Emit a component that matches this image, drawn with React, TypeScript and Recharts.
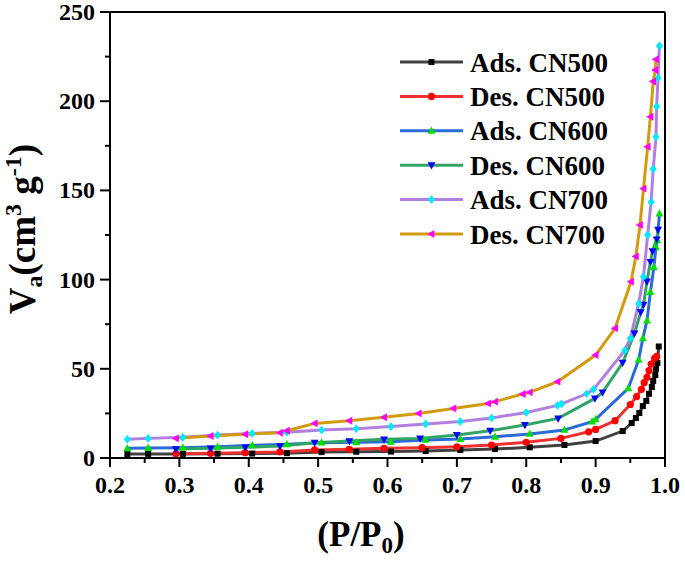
import React from "react";
import { LineChart, Line, XAxis, YAxis, ReferenceLine, Legend } from "recharts";

// relative pressure (P/P0) and adsorbed volume (cm3 g-1) per branch
const ads500P = [0.225, 0.255, 0.305, 0.355, 0.405, 0.455, 0.505, 0.555, 0.605, 0.655, 0.705, 0.755, 0.805, 0.855, 0.9, 0.939, 0.952, 0.958, 0.963, 0.968, 0.973, 0.977, 0.981, 0.983, 0.986, 0.987, 0.989, 0.991];
const ads500V = [2.2, 2.3, 2.3, 2.4, 2.5, 2.7, 3.3, 3.5, 3.6, 3.9, 4.5, 5.0, 6.0, 7.3, 9.5, 15.1, 19.6, 22.4, 25.2, 29.1, 32, 36, 39.8, 43.2, 46.5, 50, 53.3, 62.5];

const des500P = [0.295, 0.345, 0.395, 0.445, 0.495, 0.545, 0.595, 0.65, 0.7, 0.75, 0.8, 0.85, 0.89, 0.9, 0.928, 0.95, 0.959, 0.966, 0.97, 0.974, 0.977, 0.98, 0.985, 0.988];
const des500V = [2.4, 2.6, 3.0, 3.4, 4.5, 4.9, 5.4, 5.8, 6.3, 7.3, 8.8, 11, 14.7, 16, 20.9, 30, 34.4, 38.5, 42.2, 45.2, 49, 52.7, 55.9, 57];

const ads600P = [0.225, 0.255, 0.305, 0.355, 0.405, 0.455, 0.505, 0.555, 0.605, 0.655, 0.705, 0.755, 0.805, 0.855, 0.895, 0.9, 0.947, 0.962, 0.968, 0.974, 0.979, 0.984, 0.987, 0.989, 0.992];
const ads600V = [5.4, 5.6, 5.8, 6.3, 7.1, 7.7, 8.6, 8.8, 9.1, 10.1, 10.6, 11.9, 13.5, 15.7, 20.4, 21.7, 39, 55, 67, 77, 93, 107, 118, 122, 137];

const des600P = [0.295, 0.345, 0.395, 0.445, 0.495, 0.545, 0.595, 0.647, 0.7, 0.748, 0.798, 0.846, 0.899, 0.91, 0.939, 0.956, 0.965, 0.969, 0.974, 0.979, 0.982, 0.988, 0.99];
const des600V = [5.0, 5.4, 6.0, 6.7, 8.6, 9.5, 10.5, 11, 12.9, 15.3, 18.5, 22.2, 33.4, 36.8, 53.4, 69.9, 81.7, 86, 99, 110, 116, 122.6, 128];

const ads700P = [0.225, 0.255, 0.305, 0.355, 0.405, 0.455, 0.505, 0.555, 0.605, 0.655, 0.705, 0.75, 0.8, 0.845, 0.851, 0.887, 0.897, 0.942, 0.95, 0.962, 0.969, 0.975, 0.98, 0.983, 0.987, 0.988, 0.99, 0.992];
const ads700V = [10.5, 11, 11.6, 12.9, 13.8, 14.5, 15.7, 16.4, 17.6, 19.1, 20.4, 22.4, 25.5, 29.5, 30.3, 36, 38.5, 60.3, 67, 86.5, 101.6, 125, 143.5, 162, 180, 197, 213, 231];

const des700P = [0.295, 0.345, 0.395, 0.445, 0.455, 0.495, 0.545, 0.595, 0.645, 0.695, 0.745, 0.755, 0.795, 0.805, 0.845, 0.9, 0.928, 0.951, 0.958, 0.964, 0.969, 0.975, 0.979, 0.983, 0.986, 0.987];
const des700V = [11, 12.3, 13.3, 14.2, 15.3, 19.4, 20.9, 22.8, 25, 27.8, 30.6, 31.6, 35.9, 36.8, 42.8, 57.7, 72.7, 98.8, 113, 130.6, 151, 174.5, 191.3, 211, 217.5, 223.5];

const xTicks = [0.2, 0.25, 0.3, 0.35, 0.4, 0.45, 0.5, 0.55, 0.6, 0.65, 0.7, 0.75, 0.8, 0.85, 0.9, 0.95, 1.0];
const yTicks = [0, 25, 50, 75, 100, 125, 150, 175, 200, 225, 250];

const zip = (p: number[], v: number[]) => p.map((x, i) => ({ p: x, v: v[i] }));

const SERIES = [
  { name: "Ads. CN500", line: "#404040", mark: "#000000", shape: "square", data: zip(ads500P, ads500V) },
  { name: "Des. CN500", line: "#ee3030", mark: "#ff0000", shape: "circle", data: zip(des500P, des500V) },
  { name: "Ads. CN600", line: "#2a6bd8", mark: "#00dd00", shape: "up", data: zip(ads600P, ads600V) },
  { name: "Des. CN600", line: "#2fa466", mark: "#0000ff", shape: "down", data: zip(des600P, des600V) },
  { name: "Ads. CN700", line: "#b27fe0", mark: "#00e8ff", shape: "diamond", data: zip(ads700P, ads700V) },
  { name: "Des. CN700", line: "#d29b0c", mark: "#ff00ff", shape: "left", data: zip(des700P, des700V) },
];

const FONT = '"Liberation Serif", "Times New Roman", serif';
const W = 685;
const H = 563;
const PLOT_LEFT = 110;
const PLOT_BOTTOM = 458;

function Marker({ cx, cy, shape, fill }: any) {
  if (cx == null || cy == null) return null;
  const s = 3.6;
  switch (shape) {
    case "square":
      return <rect x={cx - 3} y={cy - 3} width={6} height={6} fill={fill} />;
    case "circle":
      return <circle cx={cx} cy={cy} r={3.6} fill={fill} />;
    case "up":
      return <polygon points={`${cx},${cy - s * 1.2} ${cx - s * 1.1},${cy + s * 0.8} ${cx + s * 1.1},${cy + s * 0.8}`} fill={fill} />;
    case "down":
      return <polygon points={`${cx},${cy + s * 1.2} ${cx - s * 1.1},${cy - s * 0.8} ${cx + s * 1.1},${cy - s * 0.8}`} fill={fill} />;
    case "diamond":
      return <polygon points={`${cx},${cy - s * 1.2} ${cx + s},${cy} ${cx},${cy + s * 1.2} ${cx - s},${cy}`} fill={fill} />;
    case "left":
      return <polygon points={`${cx - s * 1.2},${cy} ${cx + s * 0.8},${cy - s * 1.1} ${cx + s * 0.8},${cy + s * 1.1}`} fill={fill} />;
    default:
      return null;
  }
}

function XTick({ x, payload }: any) {
  const v = payload.value;
  const major = Math.abs(v * 10 - Math.round(v * 10)) < 1e-6;
  return (
    <g>
      <line x1={x} x2={x} y1={PLOT_BOTTOM} y2={PLOT_BOTTOM + (major ? 9 : 5)} stroke="#000" strokeWidth={2} />
      {major && (
        <text x={x} y={PLOT_BOTTOM + 35} textAnchor="middle" fontFamily={FONT} fontWeight="bold" fontSize={24} fill="#000">
          {v.toFixed(1)}
        </text>
      )}
    </g>
  );
}

function YTick({ y, payload }: any) {
  const v = payload.value;
  const major = v % 50 === 0;
  return (
    <g>
      <line x1={PLOT_LEFT - (major ? 10 : 5)} x2={PLOT_LEFT} y1={y} y2={y} stroke="#000" strokeWidth={2} />
      {major && (
        <text x={PLOT_LEFT - 15} y={y + 8} textAnchor="end" fontFamily={FONT} fontWeight="bold" fontSize={24} fill="#000">
          {v}
        </text>
      )}
    </g>
  );
}

function YTitle() {
  return (
    <text
      transform="translate(35,229) rotate(-90)"
      textAnchor="middle"
      fontFamily={FONT}
      fontWeight="bold"
      fontSize={37}
      fill="#000"
      style={{ whiteSpace: "pre" }}
    >
      <tspan>V</tspan>
      <tspan dy={7} fontSize={24}>a</tspan>
      <tspan dy={-7}>(cm</tspan>
      <tspan dy={-14} fontSize={24}>3</tspan>
      <tspan dy={14}> g</tspan>
      <tspan dy={-14} fontSize={24}>-1</tspan>
      <tspan dy={14}>)</tspan>
    </text>
  );
}

function XTitle() {
  return (
    <text x={361} y={546} textAnchor="middle" fontFamily={FONT} fontWeight="bold" fontSize={35} fill="#000">
      <tspan>(P/P</tspan>
      <tspan dy={7} fontSize={23}>0</tspan>
      <tspan dy={-7}>)</tspan>
    </text>
  );
}

function LegendBox() {
  return (
    <svg width={270} height={210}>
      {SERIES.map((s, i) => {
        const cy = 18 + i * 34.4;
        return (
          <g key={s.name}>
            <line x1={5} x2={68} y1={cy} y2={cy} stroke={s.line} strokeWidth={3} />
            <Marker cx={36.5} cy={cy} shape={s.shape} fill={s.mark} />
            <text x={75} y={cy + 9.5} fontFamily={FONT} fontWeight="bold" fontSize={27} fill="#000">
              {s.name}
            </text>
          </g>
        );
      })}
    </svg>
  );
}

export default function App() {
  return (
    <div style={{ position: "absolute", left: 0, top: 0, width: W, height: H, background: "#fff" }}>
      <LineChart width={W} height={H} margin={{ top: 12, right: 20, left: 0, bottom: 0 }}>
        <XAxis
          type="number"
          dataKey="p"
          domain={[0.2, 1.0]}
          ticks={xTicks}
          interval={0}
          height={105}
          tickLine={false}
          tickSize={0}
          tickMargin={0}
          tick={<XTick />}
          axisLine={{ stroke: "#000", strokeWidth: 2 }}
          label={<XTitle />}
        />
        <YAxis
          type="number"
          dataKey="v"
          domain={[0, 250]}
          ticks={yTicks}
          interval={0}
          width={110}
          tickLine={false}
          tickSize={0}
          tickMargin={0}
          tick={<YTick />}
          axisLine={{ stroke: "#000", strokeWidth: 2 }}
          label={<YTitle />}
        />
        <ReferenceLine y={250} stroke="#000" strokeWidth={2} />
        <ReferenceLine x={1.0} stroke="#000" strokeWidth={2} />
        <Legend
          layout="vertical"
          align="center"
          verticalAlign="middle"
          content={<LegendBox />}
          wrapperStyle={{ left: 395, top: 44, width: 270, height: 210 }}
        />
        {SERIES.map((s) => (
          <Line
            key={s.name}
            data={s.data}
            dataKey="v"
            name={s.name}
            type="linear"
            stroke={s.line}
            strokeWidth={3}
            isAnimationActive={false}
            activeDot={false}
            dot={(props: any) => (
              <Marker key={`${s.name}-${props.index}`} cx={props.cx} cy={props.cy} shape={s.shape} fill={s.mark} />
            )}
          />
        ))}
      </LineChart>
    </div>
  );
}
